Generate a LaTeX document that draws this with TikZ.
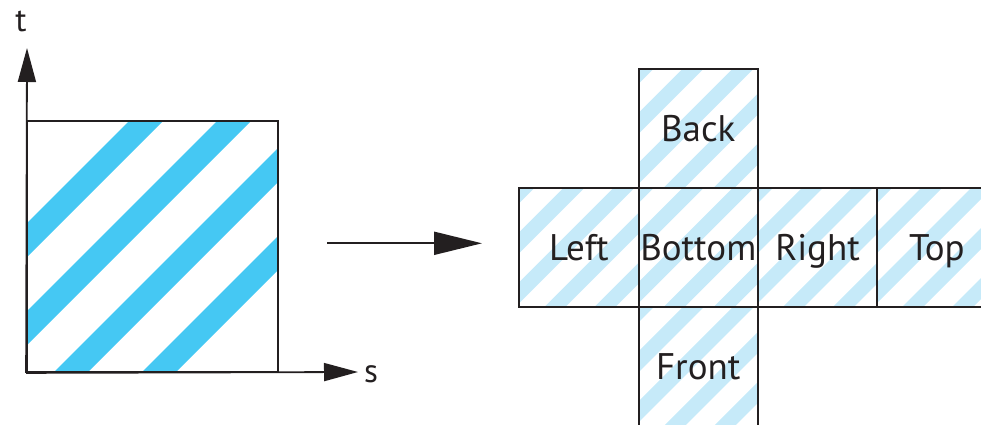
\documentclass[tikz,border=0pt]{standalone}
\usepackage{fontspec}
\setmainfont{PT Sans}
\usetikzlibrary{arrows.meta}
\definecolor{ink}{HTML}{231F20}
\definecolor{stripe}{HTML}{45C8F3}
\definecolor{lightstripe}{HTML}{C6EAF9}
\tikzset{
  cell/.style={draw=ink, line width=1.8pt, minimum width=119.3pt, minimum height=119.3pt,
    inner sep=0pt, text height=25.5pt, text depth=0pt, font=\fontsize{37}{42}\selectfont, text=ink},
  axis/.style={draw=ink, line width=1.8pt, -{Triangle[length=34pt,width=18pt]}},
  bigarrow/.style={draw=ink, line width=2pt, -{Triangle[length=48pt,width=23pt]}},
  axlabel/.style={font=\fontsize{33}{38}\selectfont, text=ink, anchor=base, inner sep=0pt},
}
\begin{document}
\begin{tikzpicture}[x=1pt,y=-1pt]
\useasboundingbox (0,0) rectangle (981,425);
% stripes of the left square
\begin{scope}
  \clip (27,121) rectangle (278,372);
  \foreach \a in {102,190,278,366}{
    \fill[stripe] ({27+\a+400},{121-400}) -- ({27+\a+34+400},{121-400}) -- ({27+\a+34-400},{121+400}) -- ({27+\a-400},{121+400}) -- cycle;
  }
\end{scope}
% stripes of the cube net cells
\foreach \ox/\oy in {519.3/188, 638.6/188, 757.9/188, 877.2/188, 638.6/68.7, 638.6/307.3}{
  \begin{scope}
    \clip (\ox,\oy) rectangle ({\ox+119.3},{\oy+119.3});
    \foreach \a in {-6,44,94,144,194}{
      \fill[lightstripe] ({\ox+\a+300},{\oy-300}) -- ({\ox+\a+21+300},{\oy-300}) -- ({\ox+\a+21-300},{\oy+300}) -- ({\ox+\a-300},{\oy+300}) -- cycle;
    }
  \end{scope}
}
% left textured square
\node[draw=ink, line width=1.8pt, minimum width=251pt, minimum height=251pt, inner sep=0pt] (sq) at (152.5,246.5) {};
% axes
\coordinate (o) at (sq.south west);
\coordinate (ttip) at (27,48);
\coordinate (stip) at (358,372);
\draw[axis] (o) -- (ttip);
\draw[axis] (o) -- (stip);
\node[axlabel] (tl) at (21,32) {t};
\node[axlabel] (sl) at (371,382) {s};
% main arrow
\coordinate (a1) at (327,243.3);
\coordinate (a2) at (482,243.3);
\draw[bigarrow] (a1) -- (a2);
% cube net
\node[cell] (left)   at (578.95,247.65) {Left};
\node[cell] (bottom) at (698.25,247.65) {Bottom};
\node[cell] (right)  at (817.55,247.65) {Right};
\node[cell] (top)    at (936.85,247.65) {Top};
\node[cell] (back)   at (698.25,128.35) {Back};
\node[cell] (front)  at (698.25,366.95) {Front};
\end{tikzpicture}
\end{document}
